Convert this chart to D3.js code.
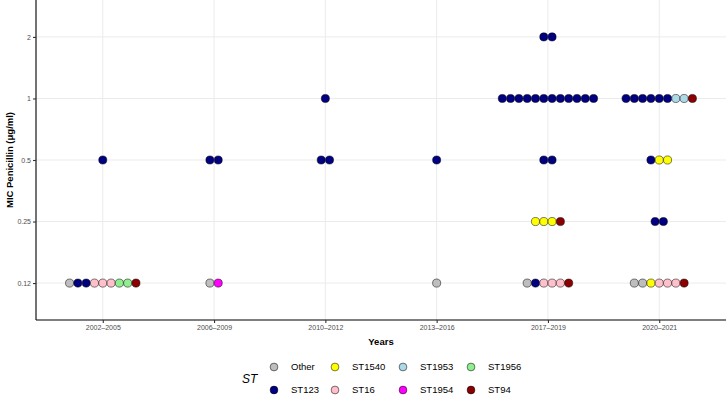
<!DOCTYPE html>
<html>
<head>
<meta charset="utf-8">
<script src="https://cdn.jsdelivr.net/npm/d3@7"></script>
<style>
  body { margin: 0; background: #fff; }
  text { font-family: "Liberation Sans", Arial, sans-serif; }
</style>
</head>
<body>
<div id="chart"></div>
<script>
// categories
const years = ["2002\u20132005", "2006\u20132009", "2010\u20132012", "2013\u20132016", "2017\u20132019", "2020\u20132021"];
const micLevels = ["0.12", "0.25", "0.5", "1", "2"];
const stTypes = ["Other", "ST123", "ST1540", "ST16", "ST1953", "ST1954", "ST1956", "ST94"];
const stColors = ["#bebebe", "#000080", "#ffff00", "#ffc0cb", "#add8e6", "#ff00ff", "#90ee90", "#8b0000"];

// isolates: [year, MIC, ST, count]
const isolates = [
  ["2002\u20132005", "0.12", "Other", 1],
  ["2002\u20132005", "0.12", "ST123", 2],
  ["2002\u20132005", "0.12", "ST16", 3],
  ["2002\u20132005", "0.12", "ST1956", 2],
  ["2002\u20132005", "0.12", "ST94", 1],
  ["2002\u20132005", "0.5", "ST123", 1],
  ["2006\u20132009", "0.12", "Other", 1],
  ["2006\u20132009", "0.12", "ST1954", 1],
  ["2006\u20132009", "0.5", "ST123", 2],
  ["2010\u20132012", "0.5", "ST123", 2],
  ["2010\u20132012", "1", "ST123", 1],
  ["2013\u20132016", "0.12", "Other", 1],
  ["2013\u20132016", "0.5", "ST123", 1],
  ["2017\u20132019", "0.12", "Other", 1],
  ["2017\u20132019", "0.12", "ST123", 1],
  ["2017\u20132019", "0.12", "ST16", 3],
  ["2017\u20132019", "0.12", "ST94", 1],
  ["2017\u20132019", "0.25", "ST1540", 3],
  ["2017\u20132019", "0.25", "ST94", 1],
  ["2017\u20132019", "0.5", "ST123", 2],
  ["2017\u20132019", "1", "ST123", 12],
  ["2017\u20132019", "2", "ST123", 2],
  ["2020\u20132021", "0.12", "Other", 2],
  ["2020\u20132021", "0.12", "ST1540", 1],
  ["2020\u20132021", "0.12", "ST16", 3],
  ["2020\u20132021", "0.12", "ST94", 1],
  ["2020\u20132021", "0.25", "ST123", 2],
  ["2020\u20132021", "0.5", "ST123", 1],
  ["2020\u20132021", "0.5", "ST1540", 2],
  ["2020\u20132021", "1", "ST123", 6],
  ["2020\u20132021", "1", "ST1953", 2],
  ["2020\u20132021", "1", "ST94", 1]
];

const W = 728, H = 395;
const margin = {top: 0, right: 2, bottom: 75, left: 36};
const width = W - margin.left - margin.right,
      height = H - margin.top - margin.bottom;

const svg = d3.select("#chart").append("svg")
    .attr("width", W).attr("height", H);
const g = svg.append("g")
    .attr("transform", `translate(${margin.left},${margin.top})`);

const x = d3.scalePoint().domain(years).range([0, width]).padding(0.6);
const y = d3.scalePoint().domain(micLevels).range([height, 0]).padding(0.6);
const color = d3.scaleOrdinal().domain(stTypes).range(stColors);

// gridlines
g.append("g").selectAll("line.gx").data(years).join("line")
    .attr("x1", d => x(d)).attr("x2", d => x(d))
    .attr("y1", 0).attr("y2", height)
    .attr("stroke", "#ebebeb").attr("stroke-width", 1);
g.append("g").selectAll("line.gy").data(micLevels).join("line")
    .attr("x1", 0).attr("x2", width)
    .attr("y1", d => y(d)).attr("y2", d => y(d))
    .attr("stroke", "#ebebeb").attr("stroke-width", 1);

// expand to dots, ordered by ST level, centred in each row
const dots = [];
years.forEach(yr => {
  micLevels.forEach(m => {
    const row = isolates.filter(d => d[0] === yr && d[1] === m)
      .sort((a, b) => stTypes.indexOf(a[2]) - stTypes.indexOf(b[2]));
    const list = [];
    row.forEach(d => { for (let i = 0; i < d[3]; i++) list.push(d[2]); });
    list.forEach((st, i) => dots.push({year: yr, mic: m, st: st, i: i, n: list.length}));
  });
});

const dotD = 8.3;
g.append("g").selectAll("circle").data(dots).join("circle")
    .attr("cx", d => x(d.year) + (d.i - (d.n - 1) / 2) * dotD)
    .attr("cy", d => y(d.mic))
    .attr("r", dotD / 2 - 0.1)
    .attr("fill", d => color(d.st))
    .attr("stroke", "#000").attr("stroke-width", 0.5);

// axes
const xAxis = g.append("g").attr("transform", `translate(0,${height})`)
    .call(d3.axisBottom(x).tickSize(3).tickPadding(2));
const yAxis = g.append("g")
    .call(d3.axisLeft(y).tickSize(3).tickPadding(2));
[xAxis, yAxis].forEach(a => {
  a.select(".domain").attr("stroke", "#000").attr("stroke-width", 1.1);
  a.selectAll(".tick line").attr("stroke", "#333").attr("stroke-width", 1.1);
  a.selectAll(".tick text").attr("fill", "#4d4d4d")
    .style("font-size", "7px").style("font-family", "Liberation Sans, Arial, sans-serif");
});
yAxis.select(".domain").attr("d", `M0,0V${height}`);
xAxis.select(".domain").attr("d", `M0,0H${width}`);

// axis titles
svg.append("text")
    .attr("x", margin.left + width / 2).attr("y", 345)
    .attr("text-anchor", "middle")
    .style("font-size", "9.5px").style("font-weight", "bold")
    .text("Years");
svg.append("text")
    .attr("transform", `translate(13,${height / 2}) rotate(-90)`)
    .attr("text-anchor", "middle")
    .style("font-size", "9.5px").style("font-weight", "bold")
    .text("MIC Penicillin (\u03bcg/ml)");

// legend (2 rows, filled by column)
const legend = svg.append("g");
legend.append("text")
    .attr("x", 242).attr("y", 383)
    .style("font-size", "12px").style("font-style", "italic")
    .text("ST");
const colX = [274, 335, 403, 471];
const rowY = [367, 390];
stTypes.forEach((st, i) => {
  const cx = colX[Math.floor(i / 2)], cy = rowY[i % 2];
  legend.append("circle")
      .attr("cx", cx).attr("cy", cy).attr("r", 3.9)
      .attr("fill", color(st)).attr("stroke", "#000").attr("stroke-width", 0.5);
  legend.append("text")
      .attr("x", cx + 17).attr("y", cy + 3.3)
      .style("font-size", "9.5px")
      .text(st);
});
</script>
</body>
</html>
